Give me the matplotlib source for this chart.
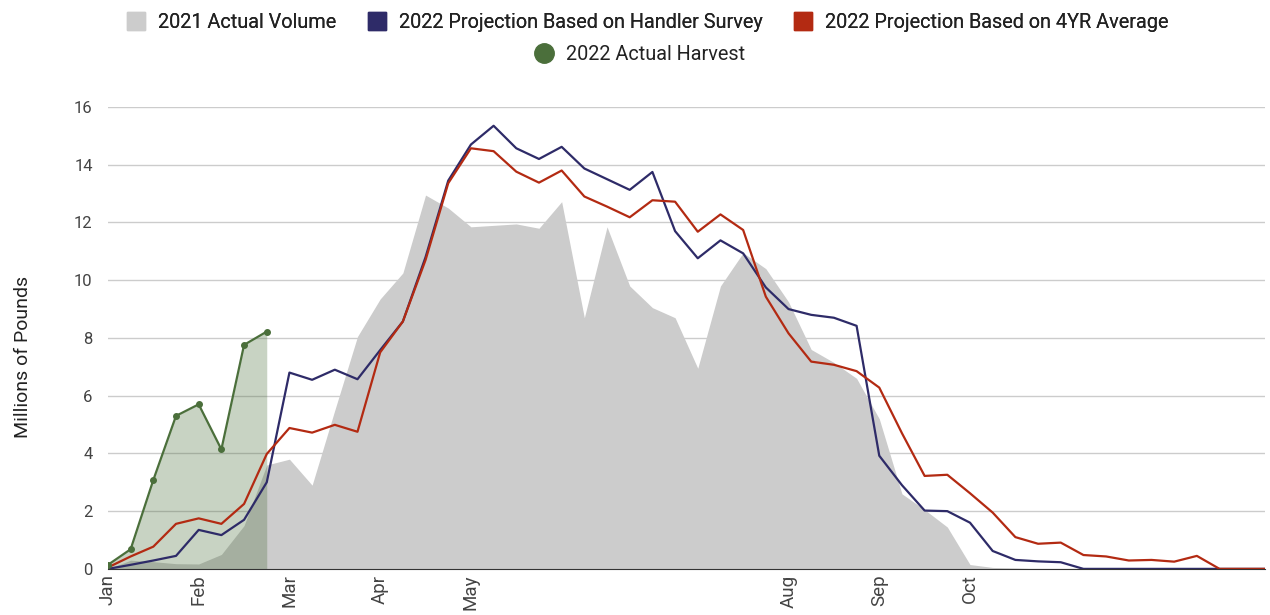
import numpy as np
import matplotlib
matplotlib.use('Agg')
import matplotlib.pyplot as plt
from matplotlib.lines import Line2D

plt.rcParams['font.family'] = ['Roboto', 'DejaVu Sans']

# weekly values, millions of pounds
volume_2021 = [0.0, 0.3, 0.25, 0.18, 0.17, 0.5, 1.5, 3.6, 3.8, 2.9,
               5.5, 8.05, 9.35, 10.25, 12.95, 12.5, 11.85, 11.9, 11.95, 11.8,
               12.72, 8.7, 11.85, 9.8, 9.05, 8.7, 6.95, 9.8, 10.95, 10.4,
               9.25, 7.6, 7.15, 6.6, 5.2, 2.6, 2.05, 1.45, 0.15, 0.05,
               0.03, 0, 0, 0, 0, 0, 0, 0, 0, 0,
               0, 0]
handler_survey = [0.0, 0.14, 0.29, 0.45, 1.35, 1.17, 1.7, 3.0, 6.8, 6.55,
                  6.9, 6.57, 7.58, 8.57, 10.8, 13.45, 14.7, 15.35, 14.57, 14.2,
                  14.62, 13.87, 13.5, 13.13, 13.75, 11.7, 10.76, 11.38, 10.93, 9.75,
                  9.0, 8.8, 8.7, 8.42, 3.92, 2.9, 2.02, 2.0, 1.6, 0.62,
                  0.31, 0.26, 0.23, 0, 0, 0, 0, 0, 0, 0,
                  0, 0]
four_yr_avg = [0.05, 0.43, 0.77, 1.56, 1.75, 1.56, 2.25, 3.98, 4.88, 4.72,
               4.99, 4.75, 7.5, 8.57, 10.7, 13.36, 14.57, 14.47, 13.76, 13.38,
               13.8, 12.9, 12.55, 12.18, 12.77, 12.72, 11.68, 12.28, 11.74, 9.43,
               8.16, 7.18, 7.07, 6.85, 6.28, 4.7, 3.22, 3.26, 2.62, 1.95,
               1.1, 0.87, 0.91, 0.48, 0.43, 0.29, 0.31, 0.25, 0.45, 0,
               0, 0]
harvest_2022 = [0.14, 0.68, 3.08, 5.3, 5.7, 4.14, 7.76, 8.22]

month_labels = ['Jan', 'Feb', 'Mar', 'Apr', 'May', 'Aug', 'Sep', 'Oct']
month_weeks = [0, 4, 8, 12, 16, 30, 34, 38]

GRAY = '#cccccc'
NAVY = '#2e2b68'
RED = '#b32a12'
GREEN = '#4b6f3b'

weeks = np.arange(len(volume_2021))
harvest_weeks = np.arange(len(harvest_2022))

figure = plt.figure(figsize=(12.7, 6.15), dpi=100)
axis = figure.add_axes([0.085, 0.075, 0.911, 0.751])

# 2021 volume as solid area, harvest as translucent area on top
axis.fill_between(weeks, volume_2021, color=GRAY, lw=0, zorder=1)
axis.fill_between(harvest_weeks, harvest_2022, color=GREEN, alpha=0.3, lw=0, zorder=2)
axis.plot(weeks, handler_survey, color=NAVY, lw=1.6, zorder=3)
axis.plot(weeks, four_yr_avg, color=RED, lw=1.6, zorder=4)
axis.plot(harvest_weeks, harvest_2022, color=GREEN, lw=1.6, marker='o', ms=4, zorder=5)

axis.set_xlim(0, len(weeks) - 1)
axis.set_ylim(0, 16)
axis.set_yticks(range(0, 17, 2))
axis.set_xticks(month_weeks)
axis.set_xticklabels(month_labels, rotation=90, va='top', ha='center')
axis.tick_params(axis='both', length=0, labelsize=12, colors='#444444')
axis.tick_params(axis='x', labelsize=13.5, pad=4)
axis.tick_params(axis='y', pad=11)
axis.grid(axis='y', color='#cccccc', lw=1)
axis.set_axisbelow(True)

# remove outer frame, keep the baseline
for side in ['top', 'right', 'left']:
    axis.spines[side].set_visible(False)
axis.spines['bottom'].set_color('#333333')
axis.spines['bottom'].set_zorder(6)

axis.set_ylabel('Millions of Pounds', fontsize=14, color='#222222')
axis.yaxis.set_label_coords(-0.066, 0.459)

# legend in two centred rows
row_one = [Line2D([], [], ls='', marker='s', ms=13.5, color=GRAY),
           Line2D([], [], ls='', marker='s', ms=13.5, color=NAVY),
           Line2D([], [], ls='', marker='s', ms=13.5, color=RED)]
names_one = ['2021 Actual Volume', '2022 Projection Based on Handler Survey',
             '2022 Projection Based on 4YR Average']
row_two = [Line2D([], [], ls='', marker='o', ms=14, color=GREEN)]
names_two = ['2022 Actual Harvest']

legend_kw = dict(frameon=False, fontsize=14.3, handletextpad=0.5, labelcolor='#222222',
                 handlelength=1.2)
first = figure.legend(row_one, names_one, loc='center', ncol=3, columnspacing=1.45,
                      bbox_to_anchor=(0.509, 0.963), **legend_kw)
figure.add_artist(first)
figure.legend(row_two, names_two, loc='center', bbox_to_anchor=(0.503, 0.911), **legend_kw)

figure.savefig('out.png', dpi=100)
